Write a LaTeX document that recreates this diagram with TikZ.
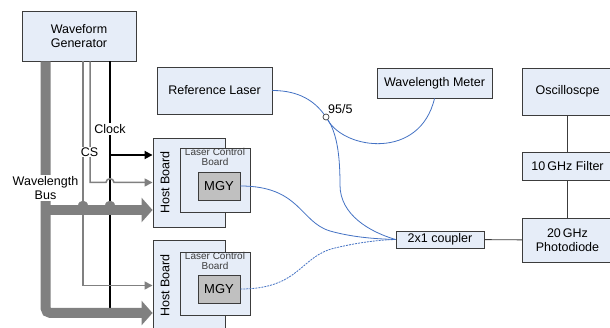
\documentclass[tikz,border=0pt]{standalone}
\usepackage{fontspec}
\setmainfont{Liberation Sans}
\usetikzlibrary{arrows.meta}
\definecolor{boxfill}{RGB}{230,237,248}
\definecolor{boxline}{RGB}{60,60,60}
\definecolor{fiber}{RGB}{68,114,196}
\definecolor{busgray}{RGB}{128,128,128}
\definecolor{mgyfill}{RGB}{192,192,192}
\begin{document}
\begin{tikzpicture}[x=1pt,y=-1pt,
  box/.style={draw=boxline, fill=boxfill, line width=0.9pt, align=center, inner sep=0pt,
    font=\fontsize{12.5}{14.5}\selectfont},
  txt/.style={align=center, inner sep=0pt, font=\fontsize{12.5}{14.5}\selectfont},
  lbl/.style={txt, fill=white, inner sep=1pt},
  bus/.style={draw=busgray, line width=10pt},
  bustip/.style={-{Triangle[length=11pt,width=24pt]}},
  csline/.style={draw=busgray, line width=1.5pt, -{Triangle[length=8pt,width=8pt]}},
  clk/.style={draw=black, line width=1.8pt, -{Triangle[length=8pt,width=8pt]}},
  fib/.style={draw=fiber, line width=0.8pt},
  conn/.style={draw=boxline, line width=0.9pt}]
\useasboundingbox (0,0) rectangle (610,328);
\fill[white] (0,0) rectangle (610,328);

% boxes
\node[box, minimum width=114pt, minimum height=50pt] (wg) at (79,36) {Waveform\\Generator};
\node[box, minimum width=115pt, minimum height=47pt] (rl) at (214.5,90.5) {Reference Laser};
\node[box, minimum width=115pt, minimum height=30pt] (wm) at (434.5,83) {Wavelength Meter};
\node[box, minimum width=90pt, minimum height=47pt] (osc) at (567.5,91.5) {Oscilloscpe};
\node[box, minimum width=90pt, minimum height=28pt] (filt) at (567.5,166) {10\,GHz Filter};
\node[box, minimum width=90pt, minimum height=44pt] (pd) at (567.5,240) {20\,GHz\\Photodiode};
\node[box, minimum width=88pt, minimum height=17pt] (cp) at (440,239.5) {2x1 coupler};

% host boards
\node[box, minimum width=72pt, minimum height=89pt] (hb1) at (189,182.5) {};
\node[box, minimum width=72pt, minimum height=91pt] (hb2) at (189,285.5) {};
\node[txt, rotate=90] (hbt1) at (165,182.5) {Host Board};
\node[txt, rotate=90] (hbt2) at (165,285.5) {Host Board};
\node[box, minimum width=70pt, minimum height=64pt] (lcb1) at (215,180) {};
\node[box, minimum width=70pt, minimum height=63pt] (lcb2) at (215,283.5) {};
\node[txt, anchor=north, text=boxline, font=\fontsize{10}{10.5}\selectfont, inner sep=0.5pt] (lt1) at (lcb1.north) {Laser Control\\Board};
\node[txt, anchor=north, text=boxline, font=\fontsize{10}{10.5}\selectfont, inner sep=0.5pt] (lt2) at (lcb2.north) {Laser Control\\Board};
\node[box, fill=mgyfill, minimum width=42pt, minimum height=28pt, font=\fontsize{13}{15}\selectfont] (m1) at (219,186) {MGY};
\node[box, fill=mgyfill, minimum width=42pt, minimum height=28pt, font=\fontsize{13}{15}\selectfont] (m2) at (219,289) {MGY};

% clock lines
\draw[clk] (wg.south -| 110,0) |- ([yshift=-27.5pt]hb2.west);
\draw[clk] (110,155) -- ([yshift=27.5pt]hb1.west);
% CS lines
\draw[csline] (wg.south -| 83,0) |- (hb2.west);
\draw[csline] (wg.south -| 90,0) -- (90,182.5) -- (106,182.5) .. controls (106,177.5) and (114,177.5) .. (114,182.5) -- (hb1.west);
% wavelength bus
\draw[bus, bustip] (45.5,210) -- ([yshift=-27.5pt]hb1.west);
\draw[bus, bustip, rounded corners=5pt] (wg.south -| 45.5,0) -- (45.5,313) -- ([yshift=-27.5pt]hb2.west);
\fill[busgray] (78,206) .. controls (78,199.5) and (88,199.5) .. (88,206) -- cycle;
\fill[busgray] (105,206) .. controls (105,199.5) and (115,199.5) .. (115,206) -- cycle;

% labels
\node[lbl] (clkl) at (110,129) {Clock};
\node[lbl] (csl) at (89.5,152) {CS};
\node[lbl] (busl) at (45.5,188) {Wavelength\\Bus};

% fibres
\node[draw=boxline, fill=white, circle, inner sep=0pt, minimum size=6pt, line width=0.7pt] (sp) at (326,117) {};
\node[txt, anchor=south west] (spl) at (328,114) {95/5};
\draw[fib] (rl.east) .. controls (300,90.5) and (315,102) .. (sp);
\draw[fib] (sp) .. controls (345,150) and (420,160) .. (wm.south);
\draw[fib] (sp) .. controls (338,135) and (340,160) .. (340,185) .. controls (340,215) and (370,232) .. (cp.west);
\draw[fib] (m1.east) .. controls (300,186) and (300,222) .. (330,231) .. controls (355,238) and (380,239) .. (cp.west);
\draw[fib, dash pattern=on 2pt off 1pt] (m2.east) .. controls (300,289) and (300,256) .. (335,248) .. controls (360,242) and (380,240) .. (cp.west);

% right chain
\draw[conn] (osc) -- (filt);
\draw[conn] (filt) -- (pd);
\draw[conn] (cp) -- (pd);
\end{tikzpicture}
\end{document}
